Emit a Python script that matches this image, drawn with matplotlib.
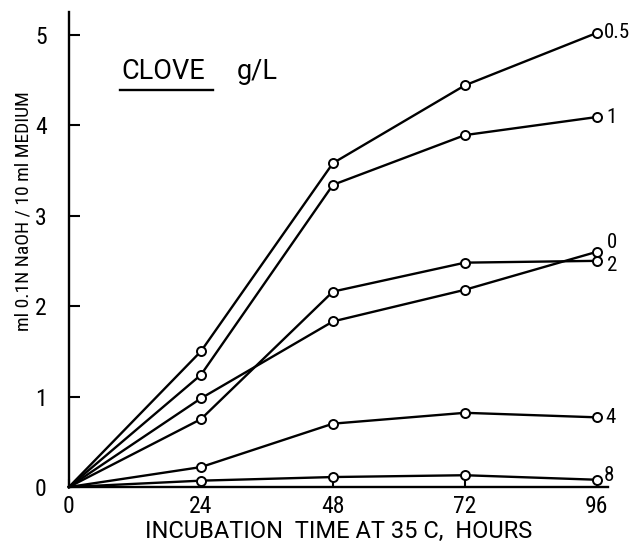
import numpy as np
import matplotlib.pyplot as plt

plt.rcParams['font.family'] = ['Roboto Condensed', 'DejaVu Sans']

hours = [0, 24, 48, 72, 96]
conc_labels = ["0.5", "1", "0", "2", "4", "8"]
naoh_05 = [0, 1.50, 3.58, 4.44, 5.02]
naoh_1 = [0, 1.24, 3.34, 3.89, 4.09]
naoh_0 = [0, 0.98, 1.83, 2.18, 2.60]
naoh_2 = [0, 0.75, 2.16, 2.48, 2.50]
naoh_4 = [0, 0.22, 0.70, 0.82, 0.77]
naoh_8 = [0, 0.07, 0.11, 0.13, 0.08]
series = [naoh_05, naoh_1, naoh_0, naoh_2, naoh_4, naoh_8]

fig = plt.figure(figsize=(6.34, 5.44), dpi=100)
ax = fig.add_axes([0.1088, 0.1048, 0.850, 0.873])

for vals in series:
    # no circle at the origin, the curves just meet there
    ax.plot(hours, vals, color='black', lw=1.7, marker='o', markersize=6.5,
            markevery=[1, 2, 3, 4], markerfacecolor='white', markeredgecolor='black',
            markeredgewidth=1.4, clip_on=False, zorder=3)

# labels at the right end of each curve
offsets = {"0.5": (5, 0), "1": (7, 0), "0": (7, 7), "2": (7, -3), "4": (6, 0), "8": (5, 3)}
for lab, vals in zip(conc_labels, series):
    dx, dy = offsets[lab]
    ax.annotate(lab, (hours[-1], vals[-1]), xytext=(dx, dy), textcoords='offset points',
                ha='left', va='center', fontsize=15)

ax.set_xlim(0, 98)
ax.set_ylim(0, 5.25)
ax.set_xticks(hours)
ax.set_xticklabels(["0", "24", "48", "72", "96"], fontsize=17)
ax.set_yticks([0, 1, 2, 3, 4, 5])
ax.set_yticklabels(["0", "1", "2", "3", "4", "5"], fontsize=17)
ax.tick_params(axis='y', direction='in', length=8, width=1.5, pad=16)
ax.tick_params(axis='x', direction='in', length=6, width=1.5, pad=6)
for s in ['top', 'right']:
    ax.spines[s].set_visible(False)
for s in ['left', 'bottom']:
    ax.spines[s].set_linewidth(1.7)

ax.set_xlabel("INCUBATION  TIME AT 35 C,  HOURS", fontsize=17, family='Roboto', labelpad=1)
ax.set_ylabel("ml 0.1N NaOH / 10 ml MEDIUM", fontsize=14)
ax.yaxis.set_label_coords(-0.067, 0.581)

ax.text(0.098, 0.874, "CLOVE", transform=ax.transAxes, fontsize=19.5, family='Roboto',
        ha='left', va='center')
ax.text(0.312, 0.874, "g/L", transform=ax.transAxes, fontsize=19.5, family='Roboto',
        ha='left', va='center')
ax.plot([0.095, 0.267], [0.836, 0.836], transform=ax.transAxes, color='black', lw=1.7, clip_on=False)

fig.savefig("out.png", dpi=100)
